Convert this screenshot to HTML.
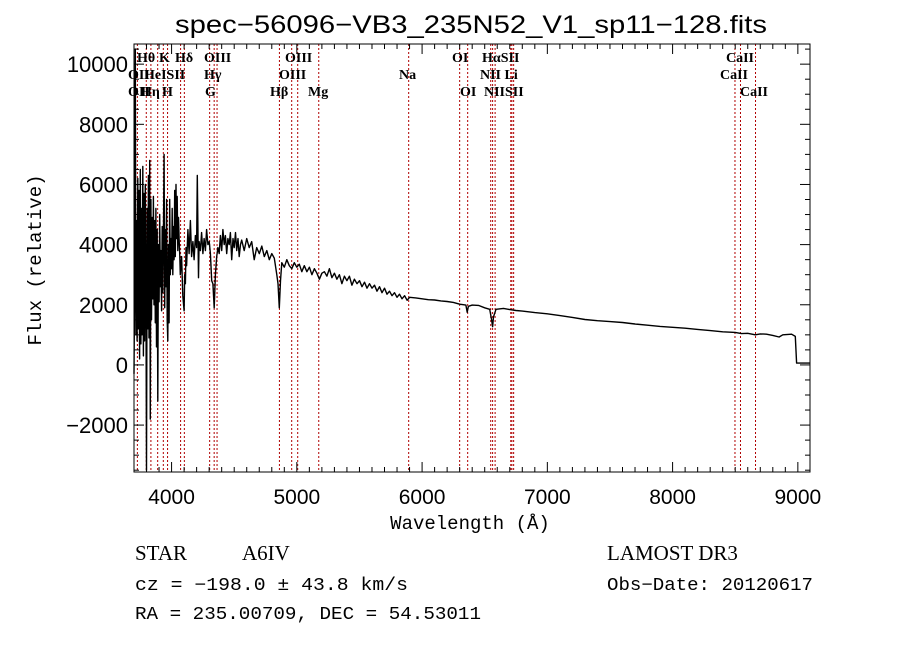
<!DOCTYPE html>
<html><head><meta charset="utf-8"><style>
body{margin:0;background:#fff;}
svg{display:block;}
.t{font-family:"Liberation Sans",sans-serif;}
.s{font-family:"Liberation Serif",serif;}
.m{font-family:"Liberation Mono",monospace;}
</style></head><body>
<svg id="chart" width="900" height="649" viewBox="0 0 900 649">
<rect width="900" height="649" fill="#fff"/>
<text x="175" y="33" textLength="592" lengthAdjust="spacingAndGlyphs" class="t" font-size="25">spec−56096−VB3_235N52_V1_sp11−128.fits</text>
<g id="lines"></g>
<g id="spec"></g>
<g id="axes"></g>
<g class="s" font-size="14" font-weight="bold">
<text x="137" y="62">Hθ</text>
<text x="159" y="62">K</text>
<text x="175" y="62">Hδ</text>
<text x="204" y="62">OIII</text>
<text x="285" y="62">OIII</text>
<text x="452" y="62">OI</text>
<text x="482" y="62">HαSII</text>
<text x="726" y="62">CaII</text>
<text x="128" y="79">OII</text>
<text x="144" y="79">HeISII</text>
<text x="204" y="79">Hγ</text>
<text x="279" y="79">OIII</text>
<text x="399" y="79">Na</text>
<text x="480" y="79">NII Li</text>
<text x="720" y="79">CaII</text>
<text x="128" y="96">OII</text>
<text x="141" y="96">Hη</text>
<text x="162" y="96">H</text>
<text x="205" y="96">G</text>
<text x="270" y="96">Hβ</text>
<text x="308" y="96">Mg</text>
<text x="460" y="96">OI</text>
<text x="484" y="96">NIISII</text>
<text x="740" y="96">CaII</text>
</g>
<text x="470" y="529" text-anchor="middle" class="m" font-size="19">Wavelength (Å)</text>
<text transform="translate(41,260) rotate(-90)" text-anchor="middle" class="m" font-size="19">Flux (relative)</text>
<text x="135" y="560" class="s" font-size="21">STAR</text>
<text x="242" y="560" class="s" font-size="21">A6IV</text>
<text x="607" y="560" class="s" font-size="21">LAMOST DR3</text>
<text x="135" y="590" textLength="273" lengthAdjust="spacingAndGlyphs" class="m" font-size="18">cz = −198.0 ± 43.8 km/s</text>
<text x="607" y="590" textLength="206" lengthAdjust="spacingAndGlyphs" class="m" font-size="18">Obs−Date: 20120617</text>
<text x="135" y="619" textLength="346" lengthAdjust="spacingAndGlyphs" class="m" font-size="18">RA = 235.00709, DEC =  54.53011</text>
</svg>
<script>
const wl=[3700,3705,3710,3715,3720,3725,3730,3735,3740,3745,3750,3755,3760,3765,3770,3775,3780,3785,3790,3795,3800,3805,3810,3815,3820,3825,3830,3835,3840,3845,3850,3855,3860,3865,3870,3875,3880,3885,3890,3895,3900,3905,3910,3915,3920,3925,3930,3935,3940,3945,3950,3955,3960,3965,3970,3975,3980,3985,3990,3995,4000,4005,4010,4015,4020,4025,4030,4035,4040,4045,4050,4055,4060,4065,4070,4080,4090,4100,4105,4110,4115,4120,4130,4140,4150,4160,4170,4180,4190,4200,4205,4215,4220,4230,4240,4250,4260,4270,4280,4290,4300,4310,4320,4330,4340,4350,4360,4370,4380,4390,4400,4410,4420,4430,4440,4450,4460,4470,4480,4490,4500,4510,4520,4530,4540,4550,4560,4580,4600,4620,4640,4660,4680,4700,4720,4740,4760,4780,4800,4820,4840,4850,4860,4870,4880,4900,4920,4940,4960,4980,5000,5020,5040,5060,5080,5100,5120,5140,5160,5180,5200,5220,5240,5260,5280,5300,5320,5340,5360,5380,5400,5420,5440,5460,5480,5500,5520,5540,5560,5580,5600,5620,5640,5660,5680,5700,5720,5740,5760,5780,5800,5820,5840,5860,5880,5900,5950,6000,6050,6100,6150,6200,6250,6300,6350,6360,6370,6400,6450,6500,6540,6555,6563,6570,6590,6650,6700,6750,6800,6900,7000,7100,7200,7300,7400,7500,7600,7700,7800,7900,8000,8100,8200,8300,8400,8500,8550,8600,8660,8700,8750,8800,8850,8880,8950,8980,8990,9097];
const flux=[-300,2500,10500,1000,4800,800,6200,1200,5800,200,6500,700,5200,1000,6600,300,5700,800,6000,3000,-3500,5200,1200,6300,900,6800,-1800,5500,1500,4900,2200,5600,2000,4800,1400,5200,600,4500,-1200,4000,2100,5000,2600,3800,1800,4600,2400,4200,7000,1900,4500,2600,5500,1500,800,4000,1400,5500,3000,4200,3200,5200,3000,4600,3500,5800,3600,6000,4200,5600,3800,4900,4200,3700,3000,3600,2300,1800,3000,2700,3900,3300,4500,3700,4800,3600,4100,3500,4300,3900,6300,2900,4100,3800,4400,3700,4200,3800,4500,4000,4100,3700,2800,2700,1900,3000,3600,3900,3700,4300,3800,4500,4000,4300,3700,4200,4000,4400,3500,4200,3900,4400,3800,4200,3600,4000,4150,3800,4200,3900,4100,3500,3900,3700,3950,3600,3800,3500,3700,3550,3000,2700,1900,2800,3400,3250,3500,3300,3200,3400,3250,3350,3100,3300,3100,3250,3000,3200,3050,2850,3050,3100,2950,3200,2900,3050,2850,3000,2700,2950,2800,2950,2650,2850,2700,2800,2600,2750,2550,2700,2550,2650,2450,2600,2400,2550,2350,2450,2300,2400,2250,2350,2200,2300,2150,2250,2230,2200,2170,2160,2130,2110,2080,2020,1990,1750,1950,1990,1980,1900,1850,1500,1270,1600,1850,1880,1840,1810,1790,1740,1700,1640,1580,1510,1470,1440,1410,1360,1320,1280,1250,1220,1180,1140,1100,1080,1040,1050,1000,1030,1020,980,930,1000,1020,950,60,60];
const lineWl=[3727,3798,3835,3889,3934,3968,4072,4102,4304,4340,4363,4861,4959,5007,5175,5893,6300,6364,6548,6563,6583,6708,6717,6731,8498,8542,8662];
const xTicks=[4000,5000,6000,7000,8000,9000];
const yTicks=[-2000,0,2000,4000,6000,8000,10000];

const L=134,R=810,T=44,B=472,XMIN=3700,XMAX=9097,YMIN=-3560,YMAX=10670;
const X=v=>L+(v-XMIN)/(XMAX-XMIN)*(R-L);
const Y=v=>B-(v-YMIN)/(YMAX-YMIN)*(B-T);
const NS='http://www.w3.org/2000/svg';
function mk(tag,parent,attrs){const e=document.createElementNS(NS,tag);for(const k in attrs)e.setAttribute(k,attrs[k]);parent.appendChild(e);return e;}

const lg=document.getElementById('lines');
lineWl.forEach(w=>{const e=mk('line',lg,{x1:X(w),x2:X(w),y1:T,y2:B,stroke:'#b00000','stroke-width':1,'stroke-dasharray':'2,2'});

});

const sg=document.getElementById('spec');
let d='';
for(let i=0;i<wl.length;i++){const x=X(wl[i]).toFixed(1),y=Y(Math.max(YMIN,Math.min(YMAX,flux[i]))).toFixed(1);d+=(i?'L':'M')+x+','+y;}
const p=mk('path',sg,{d:d,fill:'none',stroke:'#000','stroke-width':1.4,'stroke-linejoin':'round'});



const ag=document.getElementById('axes');
const fr=mk('rect',ag,{x:L,y:T,width:R-L,height:B-T,fill:'none',stroke:'#000','stroke-width':1});


for(let w=3800;w<=9000;w+=100){const big=w%1000===0,len=big?10:5;
mk('line',ag,{x1:X(w),x2:X(w),y1:B,y2:B-len,stroke:'#000'});mk('line',ag,{x1:X(w),x2:X(w),y1:T,y2:T+len,stroke:'#000'});}
for(let v=-3500;v<=10500;v+=500){const big=v%2000===0,len=big?10:5;
mk('line',ag,{x1:L,x2:L+len,y1:Y(v),y2:Y(v),stroke:'#000'});mk('line',ag,{x1:R,x2:R-len,y1:Y(v),y2:Y(v),stroke:'#000'});}
xTicks.forEach(v=>{const t=mk('text',ag,{x:X(v),y:504,'text-anchor':'middle','font-size':21,'class':'t'});t.textContent=v;

});
yTicks.forEach(v=>{const t=mk('text',ag,{x:128,y:Y(v)+8,'text-anchor':'end','font-size':22,'class':'t'});t.textContent=v<0?'−'+(-v):v;

});
</script>
</body></html>
